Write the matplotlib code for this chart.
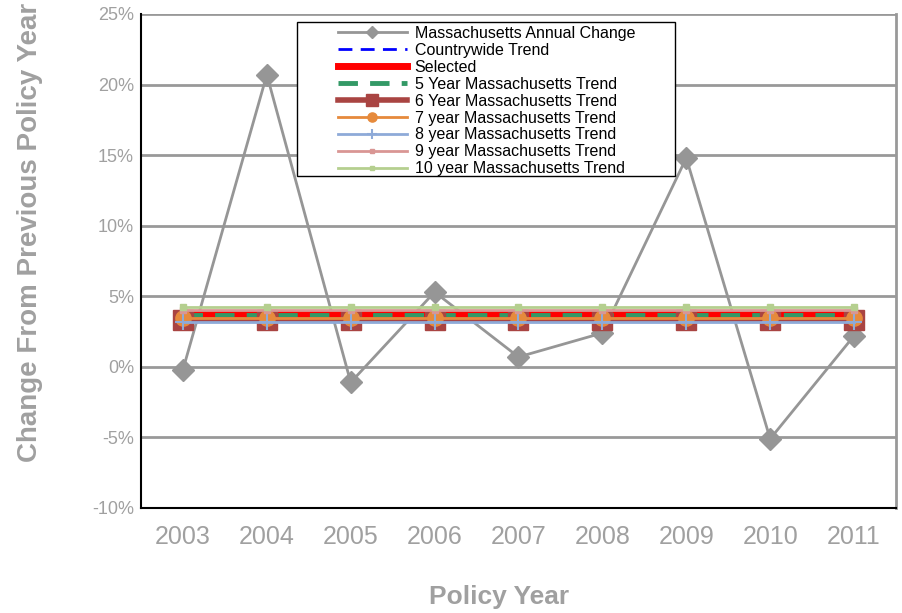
import numpy as np
import matplotlib
matplotlib.use("Agg")
import matplotlib.pyplot as plt
from matplotlib.patches import Rectangle

plt.rcParams['font.family'] = ['Liberation Sans', 'DejaVu Sans']

years = ["2003", "2004", "2005", "2006", "2007", "2008", "2009", "2010", "2011"]
annual_change = [-0.2, 20.7, -1.1, 5.3, 0.7, 2.4, 14.8, -5.1, 2.2]

countrywide = 3.70
selected = 3.72
trend_5yr = 3.68
trend_6yr = 3.33
trend_7yr = 3.47
trend_8yr = 3.19
trend_9yr = 4.04
trend_10yr = 4.25

grey_txt = "#a0a0a0"
x = np.arange(len(years))
n = len(years)

fig = plt.figure(figsize=(9.03, 6.13), dpi=100)
ax = fig.add_axes([141/903, 1-508/613, (896-141)/903, (508-14)/613])

for g in [-5, 0, 5, 10, 15, 20, 25]:
    ax.axhline(g, color="#999999", lw=2, zorder=0)

ax.plot(x, annual_change, color="#969696", lw=2, marker="D", ms=11,
        label="Massachusetts Annual Change", zorder=3)
ax.plot(x, [countrywide]*n, color="#0000ff", lw=2, ls=(0, (5, 3)),
        label="Countrywide Trend", zorder=4)
ax.plot(x, [selected]*n, color="#ff0000", lw=5, label="Selected", zorder=5)
ax.plot(x, [trend_5yr]*n, color="#339966", lw=3.5, ls=(0, (4, 2.5)),
        label="5 Year Massachusetts Trend", zorder=6)
ax.plot(x, [trend_6yr]*n, color="#a94442", lw=4, marker="s", ms=14,
        label="6 Year Massachusetts Trend", zorder=7)
ax.plot(x, [trend_7yr]*n, color="#e68a3c", lw=2, marker="o", ms=11,
        label="7 year Massachusetts Trend", zorder=8)
ax.plot(x, [trend_8yr]*n, color="#8eaad8", lw=2, marker="+", ms=12, mew=1.5,
        label="8 year Massachusetts Trend", zorder=9)
ax.plot(x, [trend_9yr]*n, color="#d99694", lw=2, marker="s", ms=4,
        label="9 year Massachusetts Trend", zorder=10)
ax.plot(x, [trend_10yr]*n, color="#b5cf8f", lw=2, marker="s", ms=5,
        label="10 year Massachusetts Trend", zorder=11)

ax.set_xlim(-0.5, n - 0.5)
ax.set_ylim(-10, 25)
ax.set_xticks(x)
ax.set_xticklabels(years)
ax.set_yticks(np.arange(-10, 26, 5))
ax.set_yticklabels([f"{v}%" for v in range(-10, 26, 5)])
ax.tick_params(axis="x", length=0, labelsize=18, labelcolor=grey_txt, pad=12)
ax.tick_params(axis="y", length=0, labelsize=13, labelcolor=grey_txt, pad=5)

ax.spines["left"].set_color("black")
ax.spines["bottom"].set_color("black")
ax.spines["left"].set_linewidth(1.5)
ax.spines["bottom"].set_linewidth(1.5)
ax.spines["top"].set_visible(False)
ax.spines["right"].set_color("#999999")
ax.spines["right"].set_linewidth(2)

# legend box (wider than the legend content, as in the original)
box = Rectangle((297/903, 1-176/613), 378/903, 154/613, transform=fig.transFigure,
                facecolor="white", edgecolor="black", lw=1, zorder=19, clip_on=False)
ax.add_patch(box)

leg = ax.legend(loc="upper left", bbox_to_anchor=(338/903, 1-26/613),
                bbox_transform=fig.transFigure,
                fontsize=11.5, handlelength=4.3, labelspacing=0.12,
                borderpad=0, borderaxespad=0, handletextpad=0.5,
                frameon=False, markerscale=0.6)
leg.set_zorder(20)

fig.text(30/903, 1-232/613, "Change From Previous Policy Year", rotation=90,
         ha="center", va="center", fontsize=20, fontweight="bold", color=grey_txt)
fig.text(499/903, 1-597/613, "Policy Year", ha="center", va="center",
         fontsize=19, fontweight="bold", color=grey_txt)

fig.savefig("out.png", dpi=100)
